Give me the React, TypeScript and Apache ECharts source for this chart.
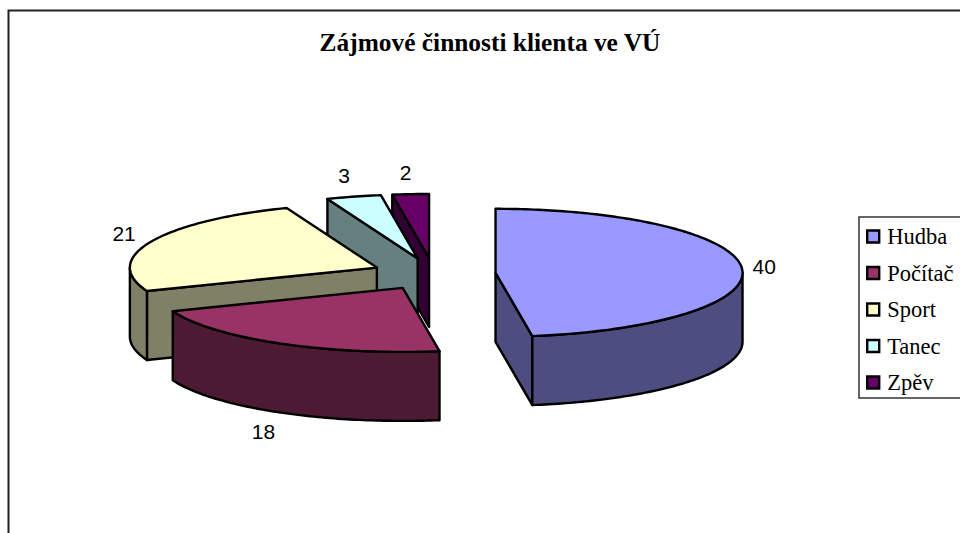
import React, { useEffect, useRef } from "react";
import * as echarts from "echarts";

const chartTitle = "Zájmové činnosti klienta ve VÚ";
const categories = ["Hudba", "Počítač", "Sport", "Tanec", "Zpěv"];
const values = [40, 18, 21, 3, 2];
const topColors = ["#9999FF", "#993366", "#FFFFCC", "#CCFFFF", "#660066"];
const sideColors = ["#4D4D80", "#4D1A33", "#808066", "#668080", "#330033"];

const CX = 433.7;
const CY = 274;
const RX = 247;
const RY = 64;
const DEPTH = 69;
const EXPLODE = 62;
const total = values.reduce((a, b) => a + b, 0);
const rad = (d: number) => (d * Math.PI) / 180;

function renderSlice(index: number) {
  return (_params: any, api: any) => {
    const before = values.slice(0, index).reduce((a, b) => a + b, 0);
    const value = api.value(0);
    const a0 = (before / total) * 360;
    const a1 = ((before + value) / total) * 360;
    const mid = (a0 + a1) / 2;
    const ax = CX + EXPLODE * Math.sin(rad(mid));
    const ay = CY - (EXPLODE * RY * Math.cos(rad(mid))) / RX;
    const rim = (a: number, drop = 0) => [
      ax + RX * Math.sin(rad(a)),
      ay - RY * Math.cos(rad(a)) + drop,
    ];
    const arc = (from: number, to: number, drop = 0) => {
      const n = Math.max(2, Math.ceil(Math.abs(to - from)));
      const pts: number[][] = [];
      for (let i = 0; i <= n; i++) pts.push(rim(from + ((to - from) * i) / n, drop));
      return pts;
    };
    const style = (fill: string) => ({
      fill,
      stroke: "#000",
      lineWidth: 2.4,
      lineJoin: "round",
    });
    const poly = (points: number[][], fill: string) => ({
      type: "polygon",
      shape: { points },
      style: style(fill),
    });
    const side = sideColors[index];
    const children: any[] = [];
    const wall = (a: number) =>
      poly(
        [[ax, ay], rim(a), rim(a, DEPTH), [ax, ay + DEPTH]],
        side,
      );
    if (Math.sin(rad(a0)) < -1e-6) children.push(wall(a0));
    if (Math.sin(rad(a1)) > 1e-6) children.push(wall(a1));
    const s0 = Math.max(a0, 90);
    const s1 = Math.min(a1, 270);
    if (s1 > s0) {
      children.push(poly([...arc(s0, s1), ...arc(s1, s0, DEPTH)], side));
    }
    children.push(poly([[ax, ay], ...arc(a0, a1)], topColors[index]));
    const lp = rim(mid, Math.cos(rad(mid)) < 0 ? DEPTH : 0);
    children.push({
      type: "text",
      style: {
        x: lp[0] + 25.5 * Math.sin(rad(mid)) - 3,
        y: lp[1] - 22 * Math.cos(rad(mid)),
        text: String(value),
        fill: "#000",
        font: '21px "Liberation Sans"',
        align: "center",
        verticalAlign: "middle",
      },
    });
    return { type: "group", children };
  };
}

export default function App() {
  const ref = useRef<HTMLDivElement>(null);
  useEffect(() => {
    const chart = echarts.init(ref.current!, null, { renderer: "svg" });
    chart.setOption({
      animation: false,
      backgroundColor: "#fff",
      title: {
        text: chartTitle,
        left: 485,
        top: 24,
        textAlign: "center",
        textStyle: {
          fontFamily: "Liberation Serif",
          fontSize: 25.4,
          fontWeight: "bold",
          color: "#000",
        },
      },
      legend: {
        orient: "vertical",
        left: 859,
        top: 217,
        selectedMode: false,
        itemWidth: 18,
        itemHeight: 12,
        itemGap: 13.5,
        padding: [8, 30, 4, 7],
        borderColor: "#333",
        borderWidth: 1.5,
        textStyle: { fontFamily: "Liberation Serif", fontSize: 22.5, color: "#000" },
        data: categories.map((name, i) => ({
          name,
          icon: "path://M0 0H12V12H0Z",
          itemStyle: { color: topColors[i], borderColor: "#000", borderWidth: 2.4 },
        })),
      },
      graphic: [
        {
          type: "polyline",
          shape: { points: [[8.5, 533], [8.5, 10.5], [960, 10.5]] },
          style: { fill: "none", stroke: "#222", lineWidth: 2 },
        },
      ],
      series: categories.map((name, i) => ({
        type: "custom",
        name,
        coordinateSystem: "none",
        z: 10 - i,
        itemStyle: { color: topColors[i] },
        renderItem: renderSlice(i),
        data: [[values[i]]],
      })),
    });
    return () => chart.dispose();
  }, []);
  return <div ref={ref} style={{ position: "fixed", left: 0, top: 0, width: 960, height: 533 }} />;
}
